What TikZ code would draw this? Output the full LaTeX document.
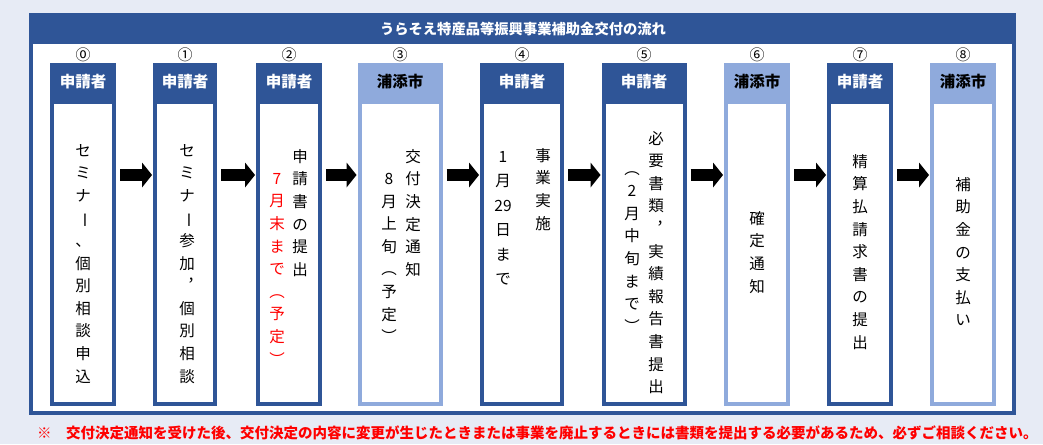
\documentclass[tikz,border=0pt]{standalone}
\usepackage{fontspec,graphicx}
\usepackage{tikz}
\usetikzlibrary{arrows.meta,calc,positioning}
\setmainfont{Noto Sans CJK JP}
\newfontfamily\jp{Noto Sans CJK JP}

\definecolor{pageback}{HTML}{E7EBF5}
\definecolor{darkblue}{HTML}{2F5597}
\definecolor{lightblue}{HTML}{8FAADC}
\definecolor{notered}{HTML}{FF0000}

\newcommand{\tatebar}{\rotatebox[origin=c]{-90}{ー}}

\tikzset{
  titletext/.style={text=white,inner sep=0pt,font=\jp\bfseries\fontsize{14.3}{16}\selectfont},
  headbox/.style={minimum height=37pt,inner sep=0pt,font=\jp\bfseries\fontsize{15.5}{18}\selectfont},
  bodybox/.style={draw,fill=white,line width=4pt,minimum height=302pt,inner sep=0pt},
  numtext/.style={inner sep=0pt,font=\jp\fontsize{15}{16}\selectfont},
  tate/.style={anchor=north,inner sep=0pt,align=center,font=\jp\fontsize{15.5}{22.6}\selectfont},
  flow/.style={line width=12pt,-{Triangle[length=10pt,width=25pt,line width=0pt]},shorten <=4pt,shorten >=1pt},
  notetext/.style={anchor=west,inner sep=0pt,text=notered,font=\jp\bfseries\fontsize{14.5}{16}\selectfont}
}

\begin{document}
\begin{tikzpicture}[x=1pt,y=-1pt,>=Stealth,font=\jp]
\fill[pageback] (0,0) rectangle (1043,444);
\useasboundingbox (0,0) rectangle (1043,444);
\draw[darkblue,line width=4pt,fill=white] (31,15) rectangle (1014,413);
\fill[darkblue] (31,15) rectangle (1014,44);
\node[titletext] (title) at (523,29) {うらそえ特産品等振興事業補助金交付の流れ};
\coordinate (arrowrow) at (0,175);
\foreach \i/\x/\w/\col/\tc/\who/\num [evaluate=\w as \bw using \w-4] in
  {0/83/66/darkblue/white/申請者/⓪, 1/185/64/darkblue/white/申請者/①,
   2/289/66/darkblue/white/申請者/②, 3/400/85/lightblue/black/浦添市/③,
   4/522/84/darkblue/white/申請者/④, 5/644/85/darkblue/white/申請者/⑤,
   6/757/66/lightblue/black/浦添市/⑥, 7/860/66/darkblue/white/申請者/⑦,
   8/963/66/lightblue/black/浦添市/⑧}{
  \node[headbox,fill=\col,text=\tc,minimum width=\w pt] (h\i) at (\x,81.5) {\who};
  \node[bodybox,draw=\col,minimum width=\bw pt] (b\i) at (\x,253) {};
  \node[numtext] (n\i) at (\x,55) {\num};
}
\foreach \i [evaluate=\i as \j using int(\i+1)] in {0,...,7}
  \draw[flow] (b\i.east |- arrowrow) -- (b\j.west |- arrowrow);

\node[tate] (t0) at (83,144) {セ\\ミ\\ナ\\\tatebar\\、\\個\\別\\相\\談\\申\\込};
\node[tate] (t1) at (187,144) {セ\\ミ\\ナ\\\tatebar\\参\\加\\︐\\個\\別\\相\\談};
\node[tate] (t2a) at (300,149) {申\\請\\書\\の\\提\\出};
\node[tate,text=notered] (t2b) at (277,173) {7\\月\\末\\ま\\で\\︵\\予\\定\\︶};
\node[tate] (t3a) at (413,149) {交\\付\\決\\定\\通\\知};
\node[tate] (t3b) at (389,173) {8\\月\\上\\旬\\︵\\予\\定\\︶};
\node[tate] (t4a) at (543,148) {事\\業\\実\\施};
\node[tate,font=\jp\fontsize{15.5}{24.5}\selectfont] (t4b) at (503,151) {1\\月\\29\\日\\ま\\で};
\node[tate] (t5a) at (656,131) {必\\要\\書\\類\\︐\\実\\績\\報\\告\\書\\提\\出};
\node[tate] (t5b) at (632,171) {︵\\2\\月\\中\\旬\\ま\\で\\︶};
\node[tate] (t6) at (757,211) {確\\定\\通\\知};
\node[tate] (t7) at (860,154) {精\\算\\払\\請\\求\\書\\の\\提\\出};
\node[tate] (t8) at (963,177) {補\\助\\金\\の\\支\\払\\い};

\node[notetext] (note) at (37,433) {※　交付決定通知を受けた後、交付決定の内容に変更が生じたときまたは事業を廃止するときには書類を提出する必要があるため、必ずご相談ください。};
\end{tikzpicture}
\end{document}
